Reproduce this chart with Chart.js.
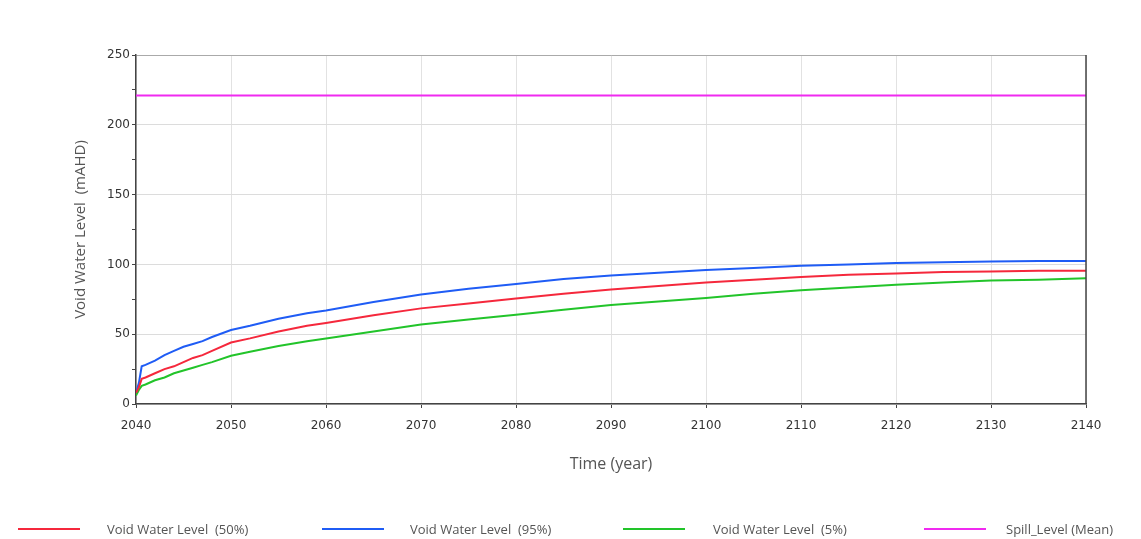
<!DOCTYPE html>
<html>
<head>
<meta charset="utf-8">
<script src="https://cdn.jsdelivr.net/npm/chart.js@4/dist/chart.umd.min.js"></script>
<style>
  html, body { margin: 0; padding: 0; background: #fff; }
  #wrap { position: relative; width: 1141px; height: 539px; }
  #legend { position: absolute; left: 0; top: 519px; width: 1141px; height: 20px; }
  .swatch { position: absolute; top: 9px; width: 62px; height: 2px; }
  .label { position: absolute; top: 1px; white-space: pre; font: 13px "Open Sans", sans-serif; color: #555; }
</style>
</head>
<body>
<div id="wrap">
  <canvas id="c" width="1141" height="539"></canvas>
  <div id="legend"></div>
</div>
<script>
// ---- data ----
const years = [2040, 2040.3, 2040.6, 2041, 2042, 2043, 2044, 2045, 2046, 2047, 2048, 2050, 2052, 2055, 2058, 2060,
               2065, 2070, 2075, 2080, 2085, 2090, 2095, 2100, 2105, 2110, 2115, 2120, 2125, 2130, 2135, 2140];
const level95 = [8, 15, 27, 28, 31, 35, 38, 41, 43, 45, 48, 53, 56, 61, 65, 67,
                 73, 78.5, 82.5, 86, 89.5, 92, 94, 96, 97.5, 99, 100, 101, 101.5, 102, 102.5, 102.5];
const level50 = [8, 12, 18, 19, 22, 25, 27, 30, 33, 35, 38, 44, 47, 52, 56, 58,
                 63.5, 68.5, 72, 75.5, 79, 82, 84.5, 87, 89, 91, 92.5, 93.5, 94.5, 95, 95.5, 95.5];
const level5  = [6, 10, 13, 14, 17, 19, 22, 24, 26, 28, 30, 34.5, 37.5, 41.5, 45, 47,
                 52, 57, 60.5, 64, 67.5, 71, 73.5, 76, 79, 81.5, 83.5, 85.5, 87, 88.5, 89, 90];
const spillYears = [2040, 2140];
const spillLevel = [221, 221];
const seriesLabels = ['Void Water Level  (50%)', 'Void Water Level  (95%)', 'Void Water Level  (5%)', 'Spill_Level (Mean)'];
const seriesColors = ['#f5283c', '#1f5cf5', '#22c42a', '#f02af0'];

const pts = (xs, ys) => xs.map((x, i) => ({ x: x, y: ys[i] }));

const rightBorder = {
  id: 'rightBorder',
  afterDraw(chart) {
    const { ctx, chartArea: a } = chart;
    ctx.save();
    ctx.strokeStyle = '#444';
    ctx.lineWidth = 1.5;
    ctx.beginPath();
    ctx.moveTo(a.right, a.top);
    ctx.lineTo(a.right, a.bottom);
    ctx.stroke();
    ctx.restore();
  }
};

const ds = (label, color, data) => ({
  label, data, borderColor: color, backgroundColor: color,
  borderWidth: 2, pointRadius: 0, tension: 0, fill: false
});

const chart = new Chart(document.getElementById('c'), {
  type: 'line',
  data: {
    datasets: [
      ds(seriesLabels[0], seriesColors[0], pts(years, level50)),
      ds(seriesLabels[1], seriesColors[1], pts(years, level95)),
      ds(seriesLabels[2], seriesColors[2], pts(years, level5)),
      ds(seriesLabels[3], seriesColors[3], pts(spillYears, spillLevel))
    ]
  },
  options: {
    responsive: false,
    animation: false,
    layout: { padding: { left: 70, right: 55, top: 55, bottom: 65 } },
    plugins: { legend: { display: false }, tooltip: { enabled: false } },
    scales: {
      x: {
        type: 'linear', min: 2040, max: 2140,
        ticks: { stepSize: 10, color: '#333', font: { family: 'DejaVu Sans', size: 12 }, padding: 11,
                 callback: v => String(v) },
        grid: { color: '#e2e2e2', tickColor: '#444', tickLength: 4, lineWidth: 1 },
        border: { color: '#444', width: 1.5 },
        title: { display: true, text: 'Time (year)', color: '#555', font: { family: 'Open Sans', size: 16 }, padding: 0 },
        afterFit: s => { s.height = 70; }
      },
      y: {
        min: 0, max: 250,
        ticks: { stepSize: 25, color: '#333', font: { family: 'DejaVu Sans', size: 12 }, padding: 2,
                 callback: v => (v % 50 === 0 ? String(v) : '') },
        grid: {
          color: c => (c.tick && c.tick.value % 50 !== 0) ? 'rgba(0,0,0,0)' : (c.tick && c.tick.value === 250 ? '#aaa' : '#dcdcdc'),
          tickColor: '#444', tickLength: 4
        },
        border: { color: '#444', width: 1.5 },
        title: { display: true, text: 'Void Water Level  (mAHD)', color: '#555', font: { family: 'Open Sans', size: 15 }, padding: { top: 2 } },
        afterFit: s => { s.width = 66; }
      }
    }
  },
  plugins: [rightBorder]
});

// HTML legend built from the datasets
const legendX = [18, 322, 623, 924];
const textX = [107, 410, 713, 1006];
const lg = document.getElementById('legend');
chart.data.datasets.forEach((d, i) => {
  const sw = document.createElement('div');
  sw.className = 'swatch';
  sw.style.left = legendX[i] + 'px';
  sw.style.background = d.borderColor;
  lg.appendChild(sw);
  const t = document.createElement('div');
  t.className = 'label';
  t.style.left = textX[i] + 'px';
  t.textContent = d.label;
  lg.appendChild(t);
});
</script>
</body>
</html>
